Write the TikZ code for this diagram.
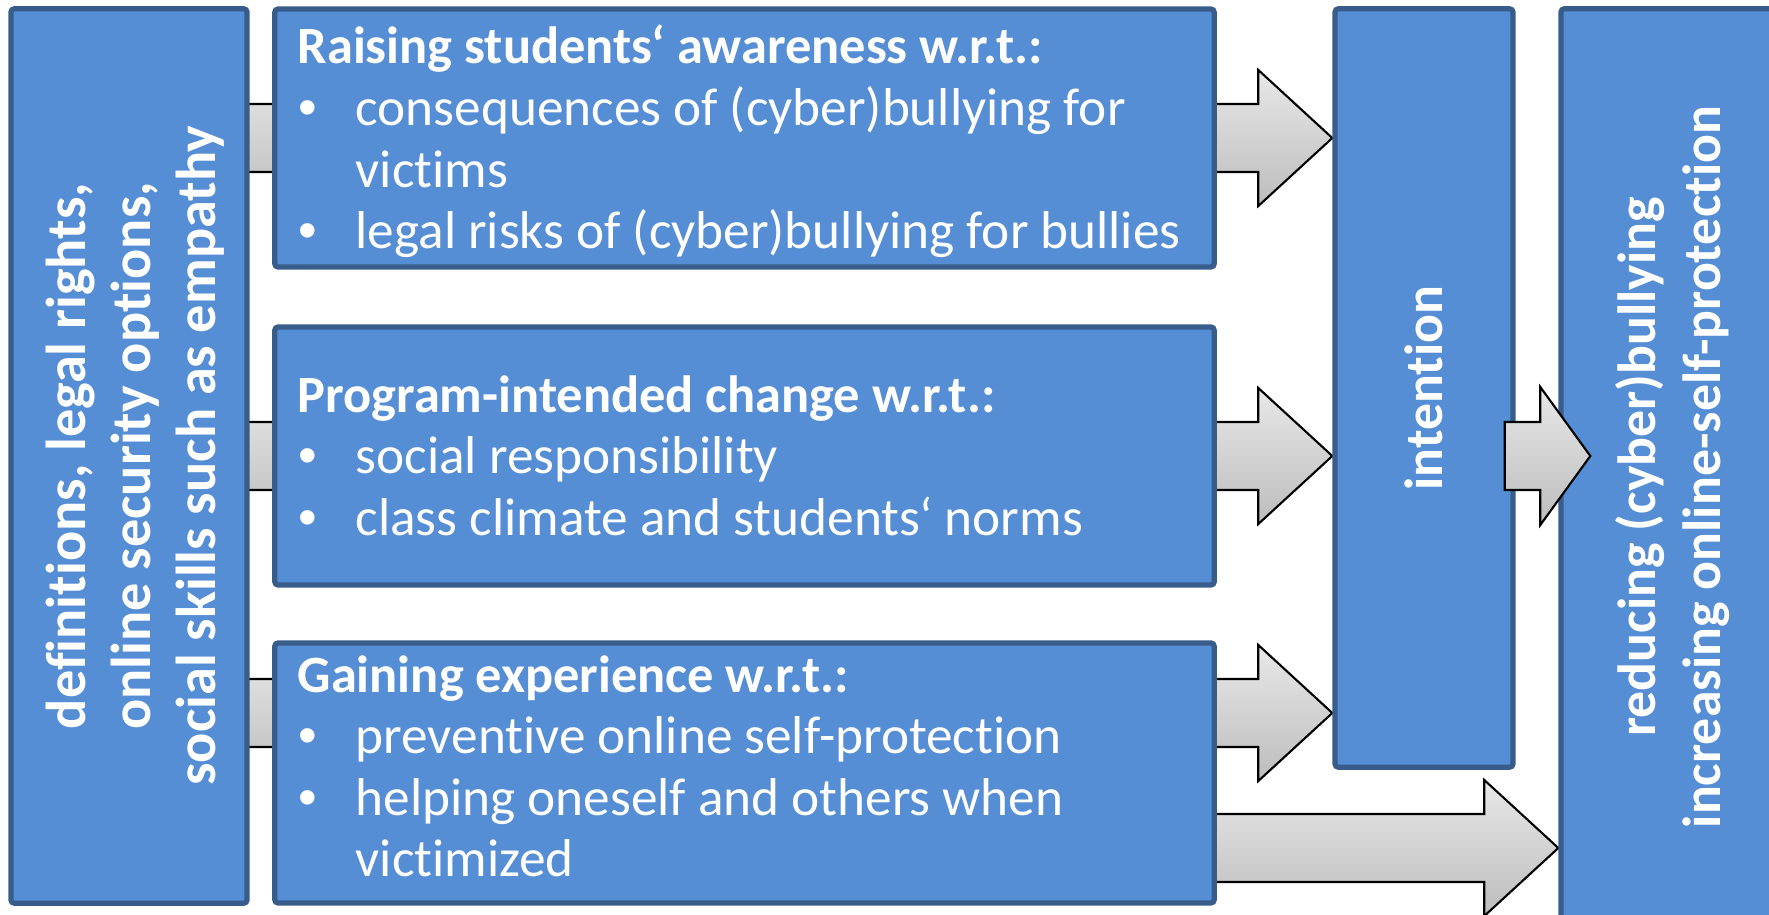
\documentclass[tikz,border=0pt]{standalone}
\usepackage{fontspec}
\setmainfont{Carlito}[Ligatures=NoCommon]
\newfontfamily\bulfont{Liberation Sans}
\usetikzlibrary{calc}

\definecolor{boxfill}{RGB}{85,142,213}
\definecolor{boxline}{RGB}{56,93,138}

\pgfdeclarelayer{back}
\pgfsetlayers{back,main}

\newcommand{\bul}{\makebox[0.58cm][l]{\hspace{0.01cm}{\bulfont •}}}
\newcommand{\cont}{\hspace*{0.58cm}}
\newcommand{\hdr}[1]{{\bfseries\fontsize{14.9}{17.5}\selectfont #1}}
% fat arrow: start, tip, shaft half height, head half height, head length
\newcommand{\fatarrow}[5]{%
	\draw[arrowbody] let \p1=(#1), \p2=(#2) in
		(\x1,\y2+#3) -- (\x2-#5,\y2+#3) -- (\x2-#5,\y2+#4) -- (\x2,\y2)
		-- (\x2-#5,\y2-#4) -- (\x2-#5,\y2-#3) -- (\x1,\y2-#3) -- cycle;}

\tikzset{
	bluebox/.style={rectangle, draw=boxline, fill=boxfill, line width=1.5pt, rounded corners=1pt, inner sep=0pt},
	bodytext/.style={text=white, inner sep=0pt, align=flush left, text width=10.5cm, font=\fontsize{15.15}{17.5}\selectfont},
	sidetext/.style={text=white, inner sep=0pt, align=center, rotate=90, font=\bfseries\fontsize{16}{18.5}\selectfont},
	smallside/.style={sidetext, font=\bfseries\fontsize{15.3}{18.5}\selectfont},
	arrowbody/.style={draw=black, line width=0.6pt, top color=black!9, bottom color=black!26}
}

\begin{document}
\begin{tikzpicture}[x=0.01cm, y=-0.01cm]
	\useasboundingbox (0,0) rectangle (1769,915);

	% boxes
	\node [bluebox, minimum width=2.36cm, minimum height=8.94cm] (lft) at (129,456) {};
	\node [bluebox, minimum width=9.39cm, minimum height=2.58cm] (b1) at (744.5,138) {};
	\node [bluebox, minimum width=9.39cm, minimum height=2.58cm] (b2) at (744.5,456) {};
	\node [bluebox, minimum width=9.39cm, minimum height=2.60cm] (b3) at (744.5,773) {};
	\node [bluebox, minimum width=1.78cm, minimum height=7.58cm] (int) at (1424,388) {};
	\node [bluebox, minimum width=2.24cm, minimum height=9.16cm] (out) at (1673,467) {};

	\coordinate (g1) at ($(b3.center)+(0,-60)$);
	\coordinate (g2) at ($(b3.center)+(0,75)$);

	% texts
	\node [sidetext] (lt) at ($(lft.center)+(6,0)$) {definitions, legal rights,\\online security options,\\social skills such as empathy};
	\node [bodytext, anchor=base west] (t1) at (297,64) {\hdr{Raising students‘ awareness w.r.t.:}\\
		\bul consequences of (cyber)bullying for\\
		\cont victims\\
		\bul legal risks of (cyber)bullying for bullies};
	\node [bodytext, anchor=base west] (t2) at (297,412) {\hdr{Program-intended change w.r.t.:}\\
		\bul social responsibility\\
		\bul class climate and students‘ norms};
	\node [bodytext, anchor=base west] (t3) at (297,692) {\hdr{Gaining experience w.r.t.:}\\
		\bul preventive online self-protection\\
		\bul helping oneself and others when\\
		\cont victimized};
	\node [smallside] (it) at (int.center) {intention};
	\node [smallside] (ot) at (out.center) {reducing (cyber)bullying\\increasing online-self-protection};

	% arrows behind the boxes
	\begin{pgfonlayer}{back}
		\fatarrow{lft.center}{b1.center}{0.34cm}{0.68cm}{0.74cm}
		\fatarrow{lft.center}{b2.center}{0.34cm}{0.68cm}{0.74cm}
		\fatarrow{lft.center}{g1}{0.34cm}{0.68cm}{0.74cm}
		\fatarrow{b1.center}{int.west |- b1.center}{0.34cm}{0.68cm}{0.74cm}
		\fatarrow{b2.center}{int.west |- b2.center}{0.34cm}{0.68cm}{0.74cm}
		\fatarrow{b3.center}{int.west |- g1}{0.34cm}{0.68cm}{0.74cm}
		\fatarrow{b3.center}{out.west |- g2}{0.34cm}{0.68cm}{0.74cm}
	\end{pgfonlayer}

	% arrow over the boxes
	\fatarrow{$(int.east)+(-11,0)$}{$(out.west |- b2.center)+(32,0)$}{0.34cm}{0.69cm}{0.50cm}
\end{tikzpicture}
\end{document}
